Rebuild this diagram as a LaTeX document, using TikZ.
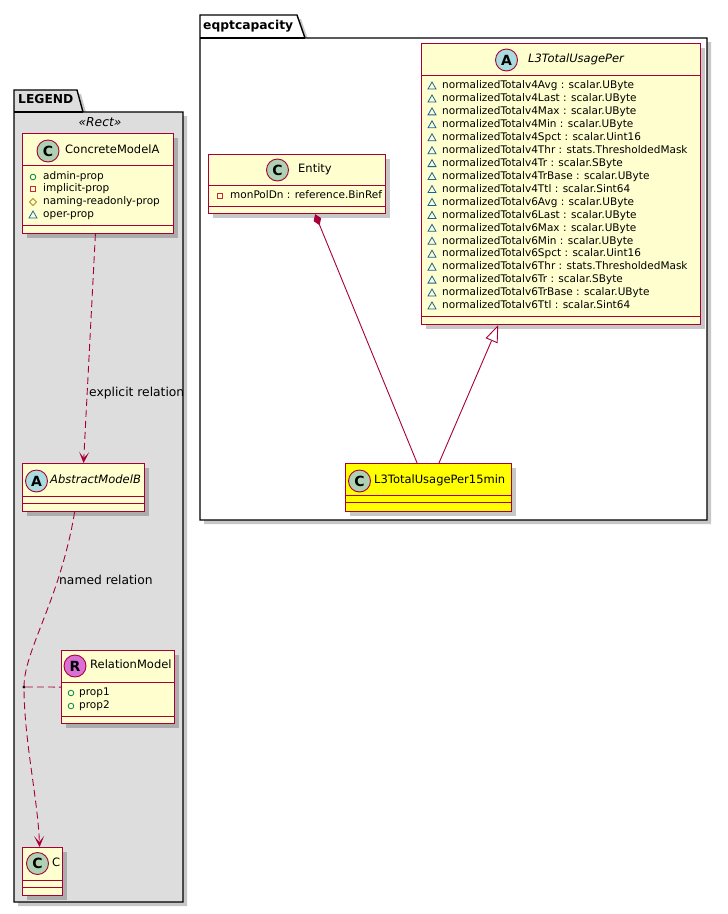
\documentclass[tikz,border=0pt]{standalone}
\usepackage{fontspec}
\setmainfont{DejaVu Sans}
\usetikzlibrary{shadows,arrows.meta,calc}
\definecolor{umlred}{HTML}{A80036}
\definecolor{umlbg}{HTML}{FEFECE}
\definecolor{legendbg}{HTML}{DDDDDD}
\definecolor{ccirc}{HTML}{ADD1B2}
\definecolor{acirc}{HTML}{A9DCDF}
\definecolor{rcirc}{HTML}{DA70D6}
\definecolor{pubc}{HTML}{038048}
\definecolor{privc}{HTML}{C82930}
\definecolor{protc}{HTML}{B38D22}
\definecolor{pkgc}{HTML}{1963A0}
\definecolor{hiyellow}{HTML}{FFFF00}
\newcommand\icpub[2]{\draw[pubc, line width=0.8pt] (#1,#2) circle (2.8pt);}
\newcommand\icpriv[2]{\draw[privc, line width=0.8pt] ({#1-2.8},{#2-2.8}) rectangle ({#1+2.8},{#2+2.8});}
\newcommand\icprot[2]{\draw[protc, line width=0.8pt] ({#1},{#2-3.5}) -- ({#1+3.5},{#2}) -- ({#1},{#2+3.5}) -- ({#1-3.5},{#2}) -- cycle;}
\newcommand\icpkg[2]{\draw[pkgc, line width=0.8pt] ({#1-4},{#2+3}) -- ({#1+4},{#2+3}) -- ({#1},{#2-4}) -- cycle;}
\tikzset{
  umlshadow/.style={drop shadow={shadow xshift=4pt, shadow yshift=-4pt, fill=black, opacity=0.22}},
  classbox/.style={draw=umlred, line width=1.1pt, fill=umlbg, anchor=north west, inner sep=0pt, umlshadow},
  sepline/.style={draw=umlred, line width=1pt},
  circ/.style={circle, draw=umlred, line width=0.9pt, minimum size=22pt, inner sep=0pt, font=\fontsize{14}{14}\selectfont\bfseries},
  ctitle/.style={anchor=mid west, inner sep=0pt, font=\fontsize{11.5}{12}\selectfont},
  atitle/.style={anchor=mid west, inner sep=0pt, font=\fontsize{11.5}{12}\selectfont\itshape},
  attr/.style={anchor=mid west, inner sep=0pt, font=\fontsize{10.5}{12}\selectfont},
  edgelabel/.style={anchor=mid west, inner sep=0pt, font=\fontsize{12.3}{13}\selectfont},
  pkgname/.style={anchor=mid west, inner sep=0pt, font=\fontsize{12.3}{13}\selectfont\bfseries},
  pkgbody/.style={draw=black, line width=1.4pt, umlshadow},
  rel/.style={draw=umlred, line width=0.9pt},
  dashrel/.style={rel, dash pattern=on 7pt off 4pt},
  vtip/.style={-{Stealth[length=11pt,width=10pt,inset=6pt]}}
}
\begin{document}
\begin{tikzpicture}[x=1pt,y=-1pt]
\useasboundingbox[fill=white] (0,0) rectangle (728,914);

% ---------- LEGEND package ----------
\path[pkgbody, fill=legendbg] (14,90) -- (77,90) -- (83,112) -- (183,112) -- (183,902) -- (14,902) -- cycle;
\draw[black, line width=1.4pt] (14,112) -- (83,112);
\node[pkgname] (legendname) at (18,101) {LEGEND};
\node[anchor=mid, inner sep=0pt, font=\fontsize{12.3}{13}\selectfont\itshape] (stereo) at (100,124) {«Rect»};

% ConcreteModelA
\node[classbox, minimum width=151pt, minimum height=100pt] (cma) at (22,133) {};
\draw[sepline] (22,165) -- (173,165);
\draw[sepline] (22,225) -- (173,225);
\node[circ, fill=ccirc] (cmacirc) at (48,151) {C};
\node[ctitle] (cmatitle) at (65,151) {ConcreteModelA};
\icpub{33}{177}  \node[attr] (cma1) at (43,177) {admin-prop};
\icpriv{33}{189} \node[attr] (cma2) at (43,189) {implicit-prop};
\icprot{33}{202} \node[attr] (cma3) at (43,202) {naming-readonly-prop};
\icpkg{33}{215}  \node[attr] (cma4) at (43,215) {oper-prop};

% AbstractModelB
\node[classbox, minimum width=122pt, minimum height=48pt] (amb) at (22,463) {};
\draw[sepline] (22,496) -- (144,496);
\draw[sepline] (22,503) -- (144,503);
\node[circ, fill=acirc] (ambcirc) at (36.5,481) {A};
\node[atitle] (ambtitle) at (50,481) {AbstractModelB};

% RelationModel
\node[classbox, minimum width=113pt, minimum height=73pt] (rm) at (61,650) {};
\draw[sepline] (61,682) -- (174,682);
\draw[sepline] (61,716) -- (174,716);
\node[circ, fill=rcirc] (rmcirc) at (75,666) {R};
\node[ctitle] (rmtitle) at (90,666) {RelationModel};
\icpub{71}{693} \node[attr] (rm1) at (79,693) {prop1};
\icpub{71}{706} \node[attr] (rm2) at (79,706) {prop2};

% C
\node[classbox, minimum width=40pt, minimum height=48pt] (c) at (22,847) {};
\draw[sepline] (22,880) -- (62,880);
\draw[sepline] (22,887) -- (62,887);
\node[circ, fill=ccirc] (ccirc) at (37.5,863.5) {C};
\node[ctitle] (ctitle) at (52,863.5) {C};

% association point
\node[circle, fill=black, inner sep=0pt, minimum size=3.2pt] (dot) at (24,687) {};

% legend relations
\draw[dashrel, vtip] (cma.-93) -- (amb.north);
\node[edgelabel] (lbl1) at (89,394) {explicit relation};
\draw[dashrel, vtip] (amb.-110) .. controls (60,600) and (24,650) .. (dot.center) .. controls (24,740) and (38,800) .. (c.97);
\node[edgelabel] (lbl2) at (59,582) {named relation};
\draw[dashrel] (dot) -- (rm.west);

% ---------- eqptcapacity package ----------
\path[pkgbody, fill=white] (200,15) -- (297,15) -- (305,38) -- (707,38) -- (707,520) -- (200,520) -- cycle;
\draw[black, line width=1.4pt] (200,38) -- (305,38);
\node[pkgname] (eqname) at (203,27) {eqptcapacity};

% Entity
\node[classbox, minimum width=177pt, minimum height=59pt] (entity) at (208,154) {};
\draw[sepline] (208,185) -- (385,185);
\draw[sepline] (208,206) -- (385,206);
\node[circ, fill=ccirc] (entcirc) at (277.5,170) {C};
\node[ctitle] (enttitle) at (298,170) {Entity};
\icpriv{220}{196} \node[attr] (ent1) at (230,196) {monPolDn : reference.BinRef};

% L3TotalUsagePer
\node[classbox, minimum width=279pt, minimum height=281pt] (l3) at (421,43) {};
\draw[sepline] (421,75) -- (700,75);
\draw[sepline] (421,316) -- (700,316);
\node[circ, fill=acirc] (l3circ) at (506.5,60) {A};
\node[atitle] (l3title) at (528,60) {L3TotalUsagePer};
\foreach [count=\i] \t in {
  normalizedTotalv4Avg : scalar.UByte,
  normalizedTotalv4Last : scalar.UByte,
  normalizedTotalv4Max : scalar.UByte,
  normalizedTotalv4Min : scalar.UByte,
  normalizedTotalv4Spct : scalar.Uint16,
  normalizedTotalv4Thr : stats.ThresholdedMask,
  normalizedTotalv4Tr : scalar.SByte,
  normalizedTotalv4TrBase : scalar.UByte,
  normalizedTotalv4Ttl : scalar.Sint64,
  normalizedTotalv6Avg : scalar.UByte,
  normalizedTotalv6Last : scalar.UByte,
  normalizedTotalv6Max : scalar.UByte,
  normalizedTotalv6Min : scalar.UByte,
  normalizedTotalv6Spct : scalar.Uint16,
  normalizedTotalv6Thr : stats.ThresholdedMask,
  normalizedTotalv6Tr : scalar.SByte,
  normalizedTotalv6TrBase : scalar.UByte,
  normalizedTotalv6Ttl : scalar.Sint64} {
  \pgfmathsetmacro\yy{86+(\i-1)*12.94}
  \icpkg{432}{\yy}
  \node[attr] (l3a\i) at (442,\yy) {\t};
}

% L3TotalUsagePer15min
\node[classbox, fill=hiyellow, minimum width=166pt, minimum height=48pt] (l315) at (345,463) {};
\draw[sepline] (345,495) -- (511,495);
\draw[sepline] (345,502) -- (511,502);
\node[circ, fill=ccirc] (l315circ) at (359.5,481) {C};
\node[ctitle] (l315title) at (374,481) {L3TotalUsagePer15min};

% relations
\draw[rel, {Diamond[length=12pt,width=8pt]}-] (entity.-59) -- (l315.115);
\draw[rel, -{Triangle[open,length=17pt,width=13pt,fill=white]}] (l315.67) -- (l3.-114);
\end{tikzpicture}
\end{document}
